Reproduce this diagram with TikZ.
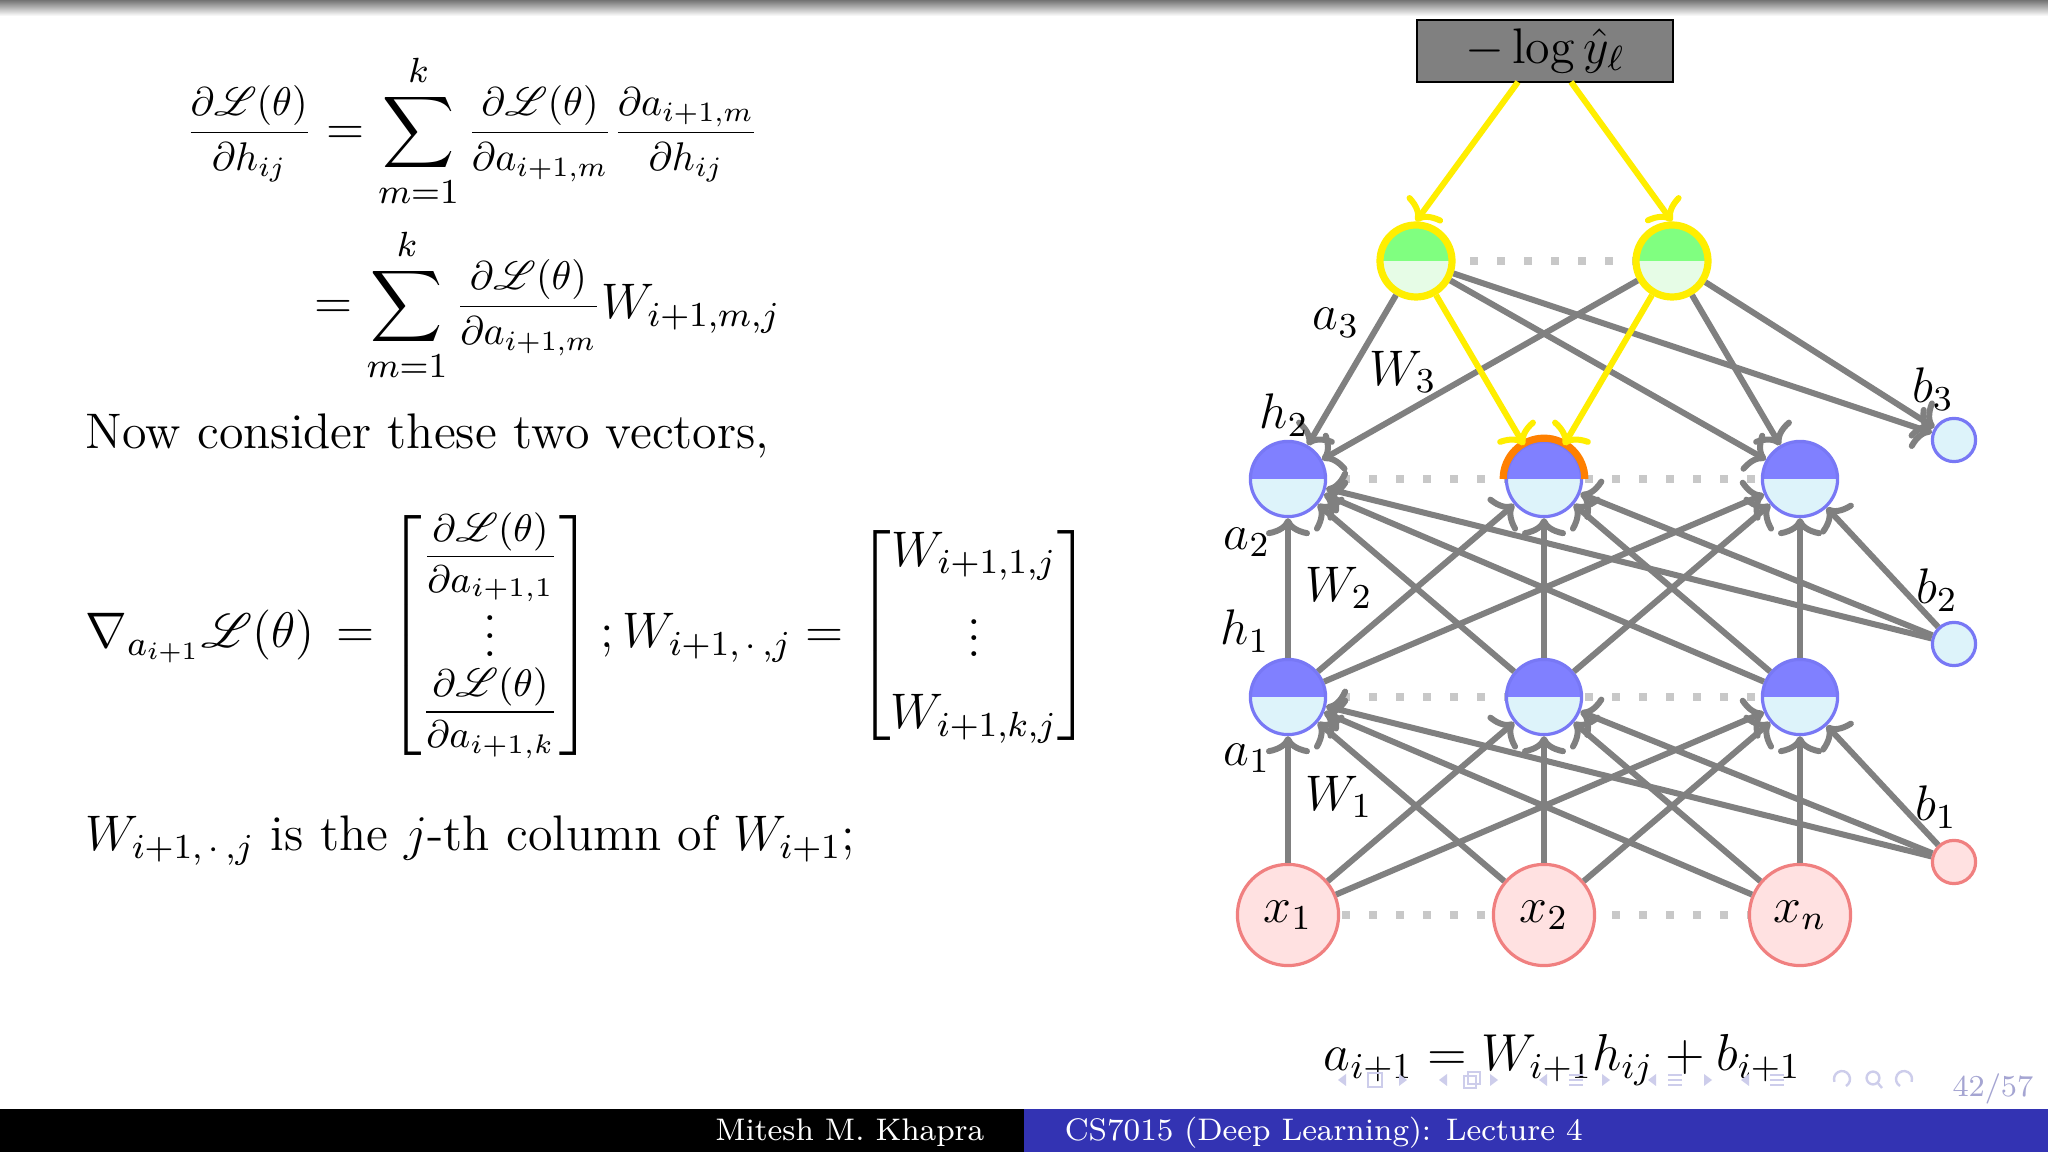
\RequirePackage{fix-cm}
\documentclass[tikz,border=0pt]{standalone}
\usepackage{amsmath,amssymb}
\usepackage{mathrsfs}
\usetikzlibrary{arrows.meta}
\definecolor{hidD}{RGB}{128,128,255}
\definecolor{hidL}{RGB}{221,243,250}
\definecolor{hidB}{RGB}{120,120,245}
\definecolor{outD}{RGB}{128,255,128}
\definecolor{outL}{RGB}{230,252,230}
\definecolor{yel}{RGB}{255,238,0}
\definecolor{orng}{RGB}{255,128,0}
\definecolor{inF}{RGB}{255,225,225}
\definecolor{inB}{RGB}{240,128,128}
\definecolor{edgeC}{RGB}{128,128,128}
\definecolor{dotC}{RGB}{200,200,200}
\definecolor{lossF}{RGB}{128,128,128}
\definecolor{footB}{RGB}{51,51,179}
\definecolor{navC}{RGB}{205,205,235}
\definecolor{navT}{RGB}{165,165,210}
\newcommand\fsz{\fontsize{12.5}{15}\selectfont}
\newcommand\fszl{\fontsize{12.5}{15}\selectfont}
\newcommand\fszf{\fontsize{7.8}{10}\selectfont}
\newcommand\fszb{\fontsize{13}{16}\selectfont}
\newcommand\ffr[2]{\raisebox{0.6pt}{\fontsize{10}{12}\selectfont$\displaystyle\frac{#1}{#2}$}}
\newcommand\mfr[2]{\raisebox{0.6pt}{\fontsize{9.6}{12}\selectfont$\displaystyle\frac{#1}{#2}$}}
\newcommand\myvd{\vbox{\baselineskip4.4pt\lineskiplimit0pt\hbox{.}\hbox{.}\hbox{.}}}
\begin{document}
\begin{tikzpicture}[x=0.25pt,y=-0.25pt,
  txt/.style={font=\fsz, inner sep=0pt, text=black},
  lbl/.style={font=\fszl, inner sep=0pt},
  foot/.style={font=\fszf, inner sep=0pt, text=white},
  hid/.style={circle, inner sep=0pt, minimum size=18.8pt, draw=hidB, line width=0.8pt, fill=hidL,
    path picture={\fill[hidD] (path picture bounding box.west) rectangle (path picture bounding box.north east);}},
  outn/.style={circle, inner sep=0pt, minimum size=18pt, draw=yel, line width=1.8pt, fill=outL,
    path picture={\fill[outD] (path picture bounding box.west) rectangle (path picture bounding box.north east);}},
  inp/.style={circle, inner sep=0pt, minimum size=25.3pt, draw=inB, line width=0.8pt, fill=inF, font=\fszl},
  biasb/.style={circle, inner sep=0pt, minimum size=10.8pt, draw=hidB, line width=0.8pt, fill=hidL},
  biasr/.style={circle, inner sep=0pt, minimum size=10.8pt, draw=inB, line width=0.8pt, fill=inF},
  conn/.style={draw=edgeC, line width=1.5pt, -{To[length=4.5pt,width=11pt]}},
  yconn/.style={conn, draw=yel},
  dotl/.style={draw=dotC, line width=2pt, dash pattern=on 2pt off 4.75pt},
  navline/.style={draw=navC, line width=0.6pt}]
\useasboundingbox (0,0) rectangle (2048,1152);
\fill[white] (0,0) rectangle (2048,1152);
% top shadow
\shade[top color=black!55, bottom color=white] (0,0) rectangle (2048,16);
% footer
\fill[black] (0,1109) rectangle (1024,1152);
\fill[footB] (1024,1109) rectangle (2048,1152);
\node[foot, anchor=base east] (auth) at (985,1141) {Mitesh M. Khapra};
\node[foot, anchor=base west] (lect) at (1064,1141) {CS7015 (Deep Learning): Lecture 4};

% left text
\node[txt, anchor=base west] (eqa) at (185,145) {$\displaystyle \ffr{\partial\mathscr{L}(\theta)}{\partial h_{ij}} = \sum_{m=1}^{k}\ffr{\partial\mathscr{L}(\theta)}{\partial a_{i+1,m}}\ffr{\partial a_{i+1,m}}{\partial h_{ij}}$};
\node[txt, anchor=base west] (eqb) at (314,319) {$\displaystyle = \sum_{m=1}^{k}\ffr{\partial\mathscr{L}(\theta)}{\partial a_{i+1,m}}W_{i+1,m,j}$};
\node[txt, anchor=base west] (now) at (85,449) {Now consider these two vectors,};
\node[txt, anchor=base west] (vec) at (85,648) {$\nabla_{a_{i+1}}\mathscr{L}(\theta)\hspace{2pt} = \begin{bmatrix} \mfr{\partial\mathscr{L}(\theta)}{\partial a_{i+1,1}}\\ \noalign{\vskip3pt} \myvd \\ \noalign{\vskip-1.5pt} \mfr{\partial\mathscr{L}(\theta)}{\partial a_{i+1,k}} \end{bmatrix};W_{i+1,\,\cdot\,,j} = \begin{bmatrix} W_{i+1,1,j}\\[3pt] \vdots \\[3pt] W_{i+1,k,j}\end{bmatrix}$};
\node[txt, anchor=base west] (col) at (85,851) {$W_{i+1,\,\cdot\,,j}$ is the $j$-th column of $W_{i+1}$;};

% network nodes
\node[draw=black, line width=0.5pt, fill=lossF, minimum width=64pt, minimum height=15.5pt, inner sep=0pt, font=\fsz] (loss) at (1545,51) {$-\log\hat{y}_{\ell}$};
\coordinate (ls1) at (1518,82);
\coordinate (ls2) at (1571,82);

% dotted lines (behind)
\draw[dotl] (1416,261) -- (1672,261);
\draw[dotl] (1288,479) -- (1800,479);
\draw[dotl] (1288,697) -- (1800,697);
\draw[dotl] (1288,915) -- (1800,915);

\node[outn] (o1) at (1416,261) {};
\node[outn] (o2) at (1672,261) {};
\node[hid] (hb1) at (1288,479) {};
\node[hid] (hb2) at (1544,479) {};
\node[hid] (hb3) at (1800,479) {};
\node[hid] (ha1) at (1288,697) {};
\node[hid] (ha2) at (1544,697) {};
\node[hid] (ha3) at (1800,697) {};
\node[inp] (x1) at (1288,915) {$x_1$};
\node[inp] (x2) at (1544,915) {$x_2$};
\node[inp] (x3) at (1800,915) {$x_n$};
\node[biasb] (bc) at (1954,440) {};
\node[biasb] (bb) at (1954,644) {};
\node[biasr] (ba) at (1954,862) {};
\draw[orng, line width=1.8pt] (hb2.center) ++(10.2pt,0pt) arc[start angle=0, end angle=180, radius=10.2pt];

% connectors
\foreach \i in {1,2,3}{
  \foreach \j in {1,2,3}{
    \draw[conn] (x\i) -- (ha\j);
    \draw[conn] (ha\i) -- (hb\j);
  }
  \draw[conn] (ba) -- (ha\i);
  \draw[conn] (bb) -- (hb\i);
}
\foreach \i in {1,2}{
  \draw[conn] (o\i) -- (hb1);
  \draw[conn] (o\i) -- (hb3);
  \draw[conn] (o\i) -- (bc);
}
\draw[yconn] (o1) -- (hb2);
\draw[yconn] (o2) -- (hb2);
\draw[yconn] (ls1) -- (o1.north);
\draw[yconn] (ls2) -- (o2.north);

% labels
\node[lbl] (la3) at (1336,323) {$a_3$};
\node[lbl] (lw3) at (1403,372) {$W_3$};
\node[lbl] (lh2) at (1284,415) {$h_2$};
\node[lbl] (la2) at (1247,542) {$a_2$};
\node[lbl] (lw2) at (1339,588) {$W_2$};
\node[lbl] (lh1) at (1245,631) {$h_1$};
\node[lbl] (la1) at (1247,758) {$a_1$};
\node[lbl] (lw1) at (1339,797) {$W_1$};
\node[lbl] (lb3) at (1933,389) {$b_3$};
\node[lbl] (lb2) at (1937,590) {$b_2$};
\node[lbl] (lb1) at (1936,807) {$b_1$};

% bottom equation
\node[inner sep=0pt, font=\fszb, anchor=base west] (eqc) at (1323,1071) {$a_{i+1} = W_{i+1}h_{ij} + b_{i+1}$};

% navigation symbols
\foreach \p in {1342,1443,1543,1652,1745} \fill[navC, shift={(\p,1080)}] (4,-6) -- (-4,0) -- (4,6) -- cycle;
\foreach \p in {1403,1494,1606,1708} \fill[navC, shift={(\p,1080)}] (-4,-6) -- (4,0) -- (-4,6) -- cycle;
\draw[navline] (1368,1073) rectangle (1382,1087);
\draw[navline] (1464,1076) rectangle (1476,1088);
\draw[navline] (1468,1072) rectangle (1480,1084);
\foreach \p in {1576,1675,1777} \foreach \d in {-5,0,5} \draw[navline] (\p-7,1080+\d) -- (\p+7,1080+\d);
\draw[navline] (1846,1086) arc[start angle=-60, end angle=200, radius=2pt];
\draw[navline] (1873,1078) circle[radius=1.6pt];
\draw[navline] (1877,1082) -- (1882,1088);
\draw[navline] (1900,1086) arc[start angle=240, end angle=-20, radius=2pt];
\node[inner sep=0pt, font=\fontsize{7.6}{9}\selectfont, text=navT, anchor=base east] (pg) at (2034,1097) {42/57};
\end{tikzpicture}
\end{document}
